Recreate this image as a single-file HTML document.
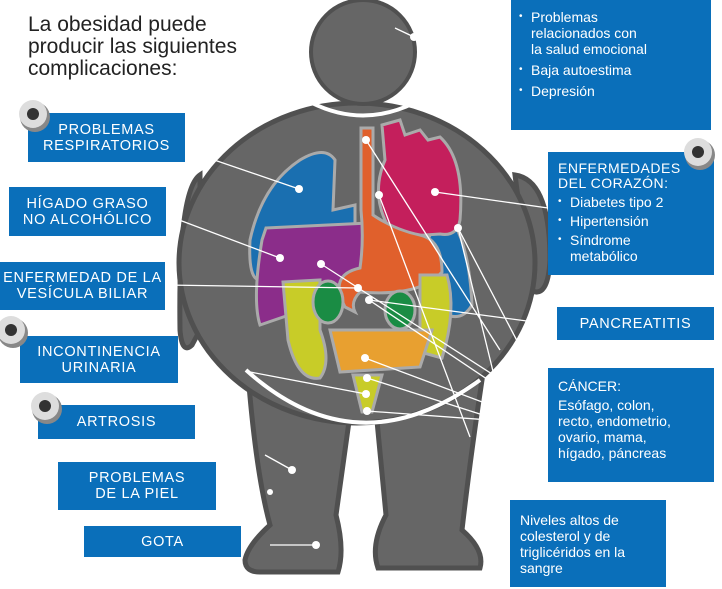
<!DOCTYPE html>
<html><head><meta charset="utf-8"><style>
body{margin:0;background:#fff;width:722px;height:589px;overflow:hidden;position:relative;font-family:"Liberation Sans",sans-serif}
svg{position:absolute;left:0;top:0}
.b{position:absolute;background:#0a6fba;color:#fff;font-size:14px;line-height:16px;box-sizing:border-box}
.c{text-align:center;letter-spacing:0.7px;display:flex;align-items:center;justify-content:center;font-size:14.5px}
.t{position:absolute;left:28px;top:14px;font-size:21px;line-height:22px;color:#222}
ul{margin:0;padding:0;list-style:none}
li{padding-left:12px;position:relative;margin-bottom:5px}
li:before{content:"•";position:absolute;left:0;font-size:10px}
</style></head><body>
<svg width="722" height="589">
<g fill="#666" stroke="#505050" stroke-width="5">
<path d="M200 175 Q178 190 180 330 Q182 355 192 345 L200 330 Z"/>
<path d="M515 175 Q550 180 550 260 Q548 300 530 290 Z"/>
<path d="M247 360 Q255 470 270 525 Q248 545 245 560 Q245 572 260 572 L338 572 Q345 550 336 515 L352 400 Z"/>
<path d="M375 400 L386 515 Q370 545 378 568 L480 568 Q485 550 462 530 Q470 460 482 380 Z"/>
<ellipse cx="357" cy="263" rx="178" ry="160"/>
</g>
<path d="M246 370 Q357 470 480 380" fill="none" stroke="#fff" stroke-width="4"/>
<circle cx="363" cy="52" r="52" fill="#666" stroke="#505050" stroke-width="4"/>
<path d="M312 103 Q363 128 414 103" fill="none" stroke="#fff" stroke-width="4"/>
<g stroke="#aaa" stroke-width="3">
<path d="M300 160 Q325 145 335 160 L333 210 L355 205 L355 230 L280 232 Q262 240 260 280 Q248 280 250 240 Q262 185 300 160Z" fill="#1a6fb0"/>
<path d="M440 210 Q468 225 472 305 Q462 322 445 314 L420 260 Z" fill="#1a6fb0"/>
<path d="M266 228 L390 222 L390 272 Q340 272 318 305 L260 325 Q252 300 262 240Z" fill="#8b2d8a"/>
<path d="M382 125 L400 120 L405 135 L420 130 L428 140 L440 137 Q465 160 460 220 Q457 237 440 234 L395 237 Q368 200 385 160 Z" fill="#c41f5c"/>
<path d="M361 128 L373 128 L373 215 Q395 230 420 235 Q442 240 442 272 Q420 297 360 292 Q350 302 355 312 L345 307 Q328 275 360 268 Q364 240 361 210Z" fill="#e0602c"/>
<path d="M283 282 L320 280 L320 330 Q332 362 320 378 Q298 382 288 340 Z" fill="#c8cc28"/>
<path d="M420 275 L447 275 Q457 310 442 358 L420 352 Z" fill="#c8cc28"/>
<path d="M330 330 L432 330 L420 367 L340 372 Z" fill="#e8a030"/>
<path d="M353 375 L382 375 L372 412 L362 412Z" fill="#c8cc28"/>
<ellipse cx="328" cy="302" rx="15" ry="21" fill="#1a8c44"/>
<ellipse cx="400" cy="310" rx="15" ry="19" fill="#1a8c44"/>
</g>
<g stroke="#fff" stroke-width="1.3" fill="none">
<path d="M185 150 L299 189 M166 215 L280 258 M165 285 L358 288 M250 372 L366 394 M435 192 L548 208 M369 300 L557 325 M395 28 L414 37"/>
<path d="M366 140 L500 350 M379 195 L470 437 M458 228 L548 400 M321 264 L548 410 M369 300 L548 420 M365 358 L530 420 M367 378 L530 430 M367 411 L530 423 M265 455 L292 470 M270 545 L316 545 M458 228 L500 400"/>
</g>
<g fill="#fff">
<circle cx="299" cy="189" r="4"/><circle cx="280" cy="258" r="4"/><circle cx="321" cy="264" r="4"/><circle cx="435" cy="192" r="4"/><circle cx="366" cy="140" r="4"/><circle cx="379" cy="195" r="4"/><circle cx="458" cy="228" r="4"/><circle cx="358" cy="288" r="4"/><circle cx="369" cy="300" r="4"/><circle cx="365" cy="358" r="4"/><circle cx="367" cy="378" r="4"/><circle cx="366" cy="394" r="4"/><circle cx="367" cy="411" r="4"/><circle cx="414" cy="37" r="4"/><circle cx="292" cy="470" r="4"/><circle cx="316" cy="545" r="4"/><circle cx="270" cy="492" r="3"/>
</g>
</svg>
<div class="t">La obesidad puede<br>producir las siguientes<br>complicaciones:</div>
<div class="b c" style="left:28px;top:113px;width:157px;height:49px">PROBLEMAS<br>RESPIRATORIOS</div>
<div class="b c" style="left:9px;top:187px;width:157px;height:49px">HÍGADO GRASO<br>NO ALCOHÓLICO</div>
<div class="b c" style="left:0;top:262px;width:165px;height:48px">ENFERMEDAD DE LA<br>VESÍCULA BILIAR</div>
<div class="b c" style="left:20px;top:336px;width:158px;height:47px">INCONTINENCIA<br>URINARIA</div>
<div class="b c" style="left:38px;top:405px;width:157px;height:34px">ARTROSIS</div>
<div class="b c" style="left:58px;top:462px;width:158px;height:48px">PROBLEMAS<br>DE LA PIEL</div>
<div class="b c" style="left:84px;top:526px;width:157px;height:31px">GOTA</div>
<div class="b" style="left:511px;top:0;width:200px;height:130px;padding:9px 0 0 8px"><ul><li>Problemas<br>relacionados con<br>la salud emocional</li><li>Baja autoestima</li><li>Depresión</li></ul></div>
<div class="b" style="left:548px;top:152px;width:166px;height:123px;padding:9px 0 0 10px"><div style="margin-bottom:3px;line-height:15px;letter-spacing:0.5px">ENFERMEDADES<br>DEL CORAZÓN:</div><ul><li style="margin-bottom:3px">Diabetes tipo 2</li><li style="margin-bottom:3px">Hipertensión</li><li>Síndrome<br>metabólico</li></ul></div>
<div class="b c" style="left:557px;top:307px;width:157px;height:33px">PANCREATITIS</div>
<div class="b" style="left:548px;top:368px;width:166px;height:114px;padding:10px 0 0 10px">CÁNCER:<div style="margin-top:3px">Esófago, colon,<br>recto, endometrio,<br>ovario, mama,<br>hígado, páncreas</div></div>
<div class="b" style="left:510px;top:500px;width:156px;height:87px;padding:12px 0 0 10px">Niveles altos de<br>colesterol y de<br>triglicéridos en la<br>sangre</div>
<svg width="722" height="589" style="pointer-events:none">
<g><circle cx="35" cy="117" r="15" fill="#888"/><circle cx="33" cy="114" r="14" fill="#ddd"/><circle cx="33" cy="114" r="6" fill="#333"/>
<circle cx="13" cy="333" r="15" fill="#888"/><circle cx="11" cy="330" r="14" fill="#ddd"/><circle cx="11" cy="330" r="6" fill="#333"/>
<circle cx="47" cy="409" r="15" fill="#888"/><circle cx="45" cy="406" r="14" fill="#ddd"/><circle cx="45" cy="406" r="6" fill="#333"/>
<circle cx="700" cy="155" r="15" fill="#888"/><circle cx="698" cy="152" r="14" fill="#ddd"/><circle cx="698" cy="152" r="6" fill="#333"/></g>
</svg>
</body></html>
